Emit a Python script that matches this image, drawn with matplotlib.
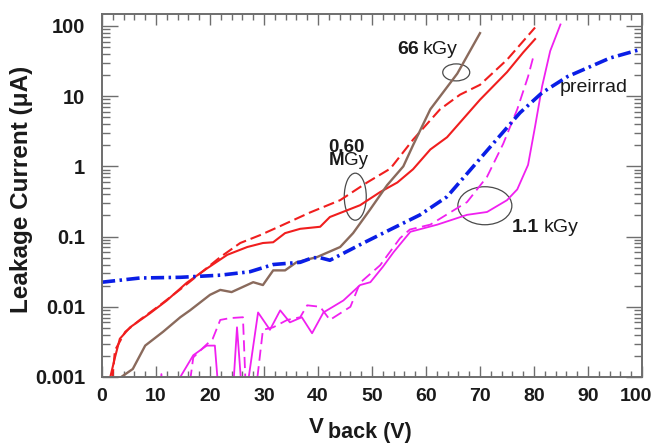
import matplotlib
matplotlib.use("Agg")
import matplotlib.pyplot as plt
from matplotlib.patches import Ellipse
from matplotlib.transforms import offset_copy
from matplotlib.ticker import LogLocator, NullFormatter, FixedLocator, MultipleLocator

plt.rcParams['font.family'] = ['Liberation Sans', 'DejaVu Sans']
plt.rcParams['lines.scale_dashes'] = False

# ---------------- data (V in volts, I in uA) ----------------
red_solid_v = [1.4, 2.4, 3.3, 5.2, 8.9, 12.0, 15.7, 19.4, 23.2, 26.9, 29.8, 31.7, 33.9,
               36.7, 40.4, 42.2, 47.8, 51.5, 54.7, 57.6, 60.8, 63.9, 70.0, 75.0, 78.0, 80.2]
red_solid_i = [0.0009, 0.0019, 0.0035, 0.0051, 0.0081, 0.0123, 0.022, 0.035, 0.055, 0.071,
               0.081, 0.083, 0.112, 0.129, 0.138, 0.19, 0.28, 0.43, 0.59, 0.91, 1.74, 2.6,
               8.9, 22.0, 42.0, 65.0]

red_dash_v = [1.9, 2.4, 4.3, 7.0, 10.7, 15.0, 18.2, 21.9, 25.6, 29.3, 33.0, 38.5, 44.1,
              49.1, 53.4, 57.6, 62.6, 66.3, 70.0, 75.0, 80.2]
red_dash_i = [0.0009, 0.0024, 0.0044, 0.0065, 0.0105, 0.019, 0.030, 0.051, 0.081, 0.105,
              0.141, 0.22, 0.33, 0.59, 0.93, 2.4, 6.5, 10.5, 14.5, 33.0, 95.0]

brown_v = [2.7, 5.7, 8.0, 11.3, 14.5, 16.3, 20.0, 21.9, 24.0, 28.0, 29.8, 31.7, 33.9, 36.0,
           39.8, 44.1, 46.5, 49.6, 52.8, 55.8, 57.6, 60.8, 65.8, 70.0]
brown_i = [0.0009, 0.0013, 0.0028, 0.0044, 0.0071, 0.0089, 0.0148, 0.0174, 0.0162, 0.0224,
           0.0204, 0.033, 0.033, 0.043, 0.051, 0.071, 0.112, 0.24, 0.54, 1.0, 2.0, 6.5,
           21.0, 79.0]

blue_v = [0.0, 7.0, 14.5, 21.9, 27.4, 31.7, 36.7, 39.0, 40.4, 42.2, 48.4, 53.4, 58.9,
          63.9, 68.2, 72.4, 77.4, 81.5, 86.2, 94.1, 100.0]
blue_i = [0.0224, 0.0257, 0.0263, 0.0282, 0.0316, 0.040, 0.043, 0.050, 0.050, 0.046,
          0.081, 0.126, 0.204, 0.37, 0.89, 2.1, 5.8, 11.2, 19.0, 35.0, 47.0]

mag_solid_v = [10.5, 11.0, 11.5, 14.5, 16.9, 19.4, 20.9, 21.9, 24.0, 25.0, 26.2, 28.9, 31.1,
               33.0, 34.8, 37.0, 38.9, 41.0, 44.7, 47.8, 49.7, 52.0, 54.0, 57.1, 62.1, 67.6,
               71.3, 75.0, 76.9, 78.9, 80.2, 81.5, 83.0, 84.9]
mag_solid_i = [0.0003, 0.0011, 0.0003, 0.001, 0.00204, 0.0028, 0.0028, 0.0003, 0.0003,
               0.0051, 0.0003, 0.0083, 0.0047, 0.0089, 0.006, 0.0071, 0.0042, 0.0083, 0.0123,
               0.0204, 0.0224, 0.037, 0.06, 0.117, 0.148, 0.204, 0.224, 0.33, 0.47, 1.05,
               3.7, 13.8, 44.0, 105.0]

mag_dash_v = [15.5, 16.9, 18.7, 20.5, 21.9, 23.7, 26.1, 26.8, 28.0, 29.8, 31.7, 34.3, 36.7,
              38.0, 40.4, 42.2, 46.0, 47.8, 51.5, 55.2, 57.0, 60.8, 67.6, 71.3, 74.3, 76.9,
              78.9, 79.9]
mag_dash_i = [0.0003, 0.0019, 0.0026, 0.0035, 0.0065, 0.0069, 0.0071, 0.0003, 0.0003,
              0.0047, 0.0051, 0.0065, 0.0071, 0.0105, 0.010, 0.0065, 0.010, 0.022, 0.039,
              0.095, 0.126, 0.148, 0.31, 0.71, 2.1, 6.5, 19.0, 37.0]

y_ticks = [0.001, 0.01, 0.1, 1, 10, 100]
y_tick_labels = ['0.001', '0.01', '0.1', '1', '10', '100']
x_ticks = [0, 10, 20, 30, 40, 50, 60, 70, 80, 90, 100]

# ---------------- figure ----------------
W, H = 653, 443
fig = plt.figure(figsize=(W / 100, H / 100), dpi=100)
ax = fig.add_axes([102 / W, 1 - 377 / H, 540 / W, 363 / H])

red = '#f01e1e'
brown = '#8a6a5c'
blue = '#0a1ee6'
mag = '#f020f0'

ax.plot(red_solid_v, red_solid_i, color=red, lw=1.5)
ax.plot(red_dash_v, red_dash_i, color=red, lw=1.5, dashes=(8, 3.5))
ax.plot(brown_v, brown_i, color=brown, lw=1.7)
ax.plot(mag_solid_v, mag_solid_i, color=mag, lw=1.3)
ax.plot(mag_dash_v, mag_dash_i, color=mag, lw=1.3, dashes=(8, 4))
ax.plot(blue_v, blue_i, color=blue, lw=2.6, dashes=(9.5, 3.2, 1.8, 3.2))

ax.set_yscale('log')
ax.set_xlim(0, 100)
ax.set_ylim(0.001, 148)

ax.yaxis.set_major_locator(FixedLocator(y_ticks))
ax.set_yticklabels(y_tick_labels)
ax.yaxis.set_minor_locator(LogLocator(base=10, subs=[2, 3, 4, 5, 6, 7, 8, 9], numticks=20))
ax.yaxis.set_minor_formatter(NullFormatter())
ax.set_xticks(x_ticks)
ax.xaxis.set_minor_locator(MultipleLocator(2))

spine_c = '#6e6e6e'
for s in ax.spines.values():
    s.set_color(spine_c)
    s.set_linewidth(1.4)

ax.tick_params(axis='x', which='major', direction='in', length=8, width=1, color=spine_c,
               top=True, pad=8, labelsize=14)
ax.tick_params(axis='x', which='minor', direction='in', length=4, width=1, color=spine_c, top=True)
ax.tick_params(axis='y', which='major', direction='in', length=11.5, width=1, color=spine_c,
               right=True, pad=12, labelsize=14.5)
ax.tick_params(axis='y', which='minor', direction='in', length=5.5, width=1, color=spine_c, right=True)
for lab in ax.get_xticklabels() + ax.get_yticklabels():
    lab.set_fontweight('bold')
    lab.set_color('#1a1a1a')

# keep the last x tick label inside the picture, as in the reference
fig.canvas.draw()
last = ax.xaxis.get_major_ticks()[-1].label1
last.set_transform(offset_copy(last.get_transform(), fig=fig, x=-6, y=0, units='dots'))

# ---------------- annotations ----------------
to_axes = ax.transData + ax.transAxes.inverted()

def ellipse(v, i, wpx, hpx):
    cx, cy = to_axes.transform((v, i))
    e = Ellipse((cx, cy), wpx / 540, hpx / 363, transform=ax.transAxes,
                fill=False, edgecolor='#4a4a4a', lw=0.9, clip_on=False)
    ax.add_patch(e)

ellipse(65.6, 21.8, 27, 17)
ellipse(46.9, 0.37, 22, 47)
ellipse(70.9, 0.275, 54, 38)

fs = 14
tc = '#1a1a1a'

def two_part(v, i, bold_txt, reg_txt, gap, size=fs):
    t1 = ax.text(v, i, bold_txt, fontsize=size, fontweight='bold', color=tc,
                 ha='left', va='baseline')
    ax.annotate(reg_txt, xy=(1, 0), xycoords=t1, xytext=(gap, 0),
                textcoords='offset points', fontsize=size, color=tc, ha='left', va='bottom')

two_part(54.6, 39.5, '66', 'kGy', 3)
ax.text(41.9, 1.62, '0.60', fontsize=13.5, fontweight='bold', color=tc, ha='left', va='baseline')
two_part(41.9, 1.06, 'M', 'Gy', 0, size=13.5)
two_part(75.9, 0.117, '1.1', 'kGy', 3)
ax.text(84.8, 11.3, 'preirrad', fontsize=fs, color=tc, ha='left', va='baseline')

# axis labels
fig.text(22 / W, 1 - 189 / H, 'Leakage Current (\u03bcA)', rotation=90, fontsize=17.5,
         fontweight='bold', color=tc, ha='center', va='center')
fig.text(309 / W, 1 - 433 / H, 'V', fontsize=16, fontweight='bold', color=tc,
         ha='left', va='baseline')
fig.text(328 / W, 1 - 438 / H, 'back (V)', fontsize=15.5, fontweight='bold', color=tc,
         ha='left', va='baseline')

fig.savefig('out.png', dpi=100)
